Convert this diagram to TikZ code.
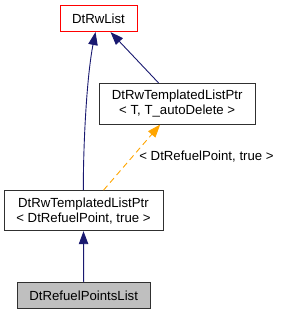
\documentclass[tikz,border=0pt]{standalone}
\usepackage{fontspec}
\setmainfont{Liberation Sans}
\usetikzlibrary{arrows.meta}
\definecolor{navyedge}{HTML}{191970}
\definecolor{orangeedge}{HTML}{FFA500}
\definecolor{grayfill}{HTML}{BFBFBF}
\definecolor{boxborder}{HTML}{303030}
\begin{document}
\begin{tikzpicture}[x=1pt,y=-1pt,
  cls/.style={draw=boxborder,line width=1pt,fill=white,inner sep=0pt,align=center,
    font=\fontsize{13.2}{15}\selectfont},
  inh/.style={draw=navyedge,line width=0.9pt,-{Triangle[length=13pt,width=9.5pt]}},
  tmpl/.style={draw=orangeedge,line width=0.9pt,dash pattern=on 6pt off 4pt,
    -{Triangle[length=13pt,width=9.5pt]}},
  lbl/.style={font=\fontsize{13.2}{15}\selectfont,inner sep=0pt}]
\useasboundingbox (0,0) rectangle (283,315);
\node[cls,draw=red,minimum width=77pt,minimum height=26.5pt] (n1) at (98.5,18.3) {DtRwList};
\node[cls,minimum width=155.7pt,minimum height=40.7pt] (n2) at (177.2,103.7)
  {DtRwTemplatedListPtr\\{}< T, T\_autoDelete >};
\node[cls,minimum width=159pt,minimum height=40pt] (n3) at (83.5,210.7)
  {DtRwTemplatedListPtr\\{}< DtRefuelPoint, true >};
\node[cls,fill=grayfill,minimum width=132.7pt,minimum height=25.6pt] (n4) at (83.7,295.5)
  {DtRefuelPointsList};
\draw[inh] (n4.north) -- (n3.south);
\draw[inh] ([xshift=-0.2pt]n3.north) .. controls (83.3,140) and (87,75) .. ([xshift=-3pt]n1.south);
\draw[inh] ([xshift=-18.7pt]n2.north) -- ([xshift=12pt]n1.south);
\draw[tmpl] ([xshift=20pt]n3.north) -- ([xshift=-17pt]n2.south);
\node[lbl] (l1) at (206.5,156.7) {< DtRefuelPoint, true >};
\end{tikzpicture}
\end{document}
